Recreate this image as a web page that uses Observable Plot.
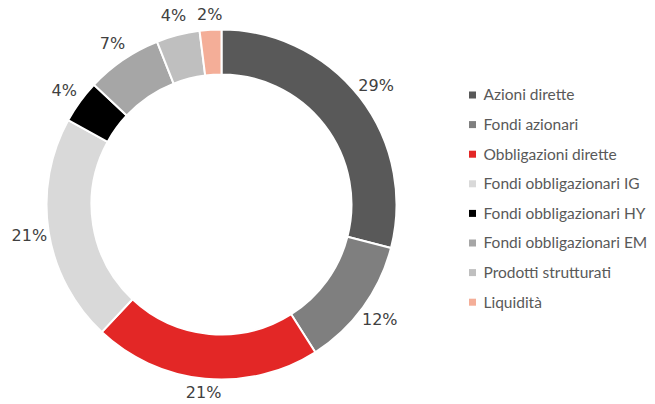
<!DOCTYPE html>
<html><head><meta charset="utf-8">
<script src="https://cdn.jsdelivr.net/npm/d3@7"></script>
<script src="https://cdn.jsdelivr.net/npm/@observablehq/plot@0.6"></script>
<style>body{margin:0;background:#fff;}</style>
</head><body><div id="chart"></div>
<script>
const categories = ["Azioni dirette","Fondi azionari","Obbligazioni dirette","Fondi obbligazionari IG","Fondi obbligazionari HY","Fondi obbligazionari EM","Prodotti strutturati","Liquidità"];
const values = [29, 12, 21, 21, 4, 7, 4, 2];
const colors = ["#595959","#7f7f7f","#e32726","#d9d9d9","#000000","#a6a6a6","#bfbfbf","#f4ae98"];

const data = categories.map((c, i) => ({category: c, value: values[i]}));
const arcs = d3.pie().sort(null).value(d => d.value)(data);
const W = 655, H = 404;
const cx = 221.5, cy = 204.5, R = 175, r = 130, rl = 195;
const mid = a => (a.startAngle + a.endAngle) / 2;

const donut = (index, scales) => {
  const sx = scales.x || (v => v), sy = scales.y || (v => v);
  const arcGen = d3.arc().innerRadius(r).outerRadius(R);
  const g = d3.create("svg:g").attr("transform", `translate(${sx(cx)},${sy(cy)})`);
  g.selectAll("path").data(arcs).join("path")
    .attr("d", arcGen)
    .attr("fill", d => scales.color(d.data.category))
    .attr("stroke", "#fff")
    .attr("stroke-width", 2)
    .attr("stroke-linejoin", "miter");
  return g.node();
};

const legendY = (d, i) => 95 + i * 29.6;

const chart = Plot.plot({
  width: W, height: H, margin: 0,
  x: {type: "identity", axis: null},
  y: {type: "identity", axis: null},
  color: {domain: categories, range: colors},
  style: {background: "#fff"},
  marks: [
    donut,
    Plot.text(arcs, {
      x: d => cx + rl * Math.sin(mid(d)),
      y: d => Math.max(14, Math.min(H - 12, cy - rl * Math.cos(mid(d)))),
      text: d => d.data.value + "%",
      fontSize: 16, fontFamily: "DejaVu Sans", fill: "#404040"
    }),
    Plot.rect(categories, {
      x1: () => 469, x2: () => 476,
      y1: (d, i) => legendY(d, i) - 3.5, y2: (d, i) => legendY(d, i) + 3.5,
      fill: d => d
    }),
    Plot.text(categories, {
      x: () => 483, y: legendY, text: d => d,
      textAnchor: "start", fontSize: 15.5, fontFamily: "Lato", fill: "#595959"
    })
  ]
});
document.getElementById("chart").append(chart);
</script>
</body></html>
